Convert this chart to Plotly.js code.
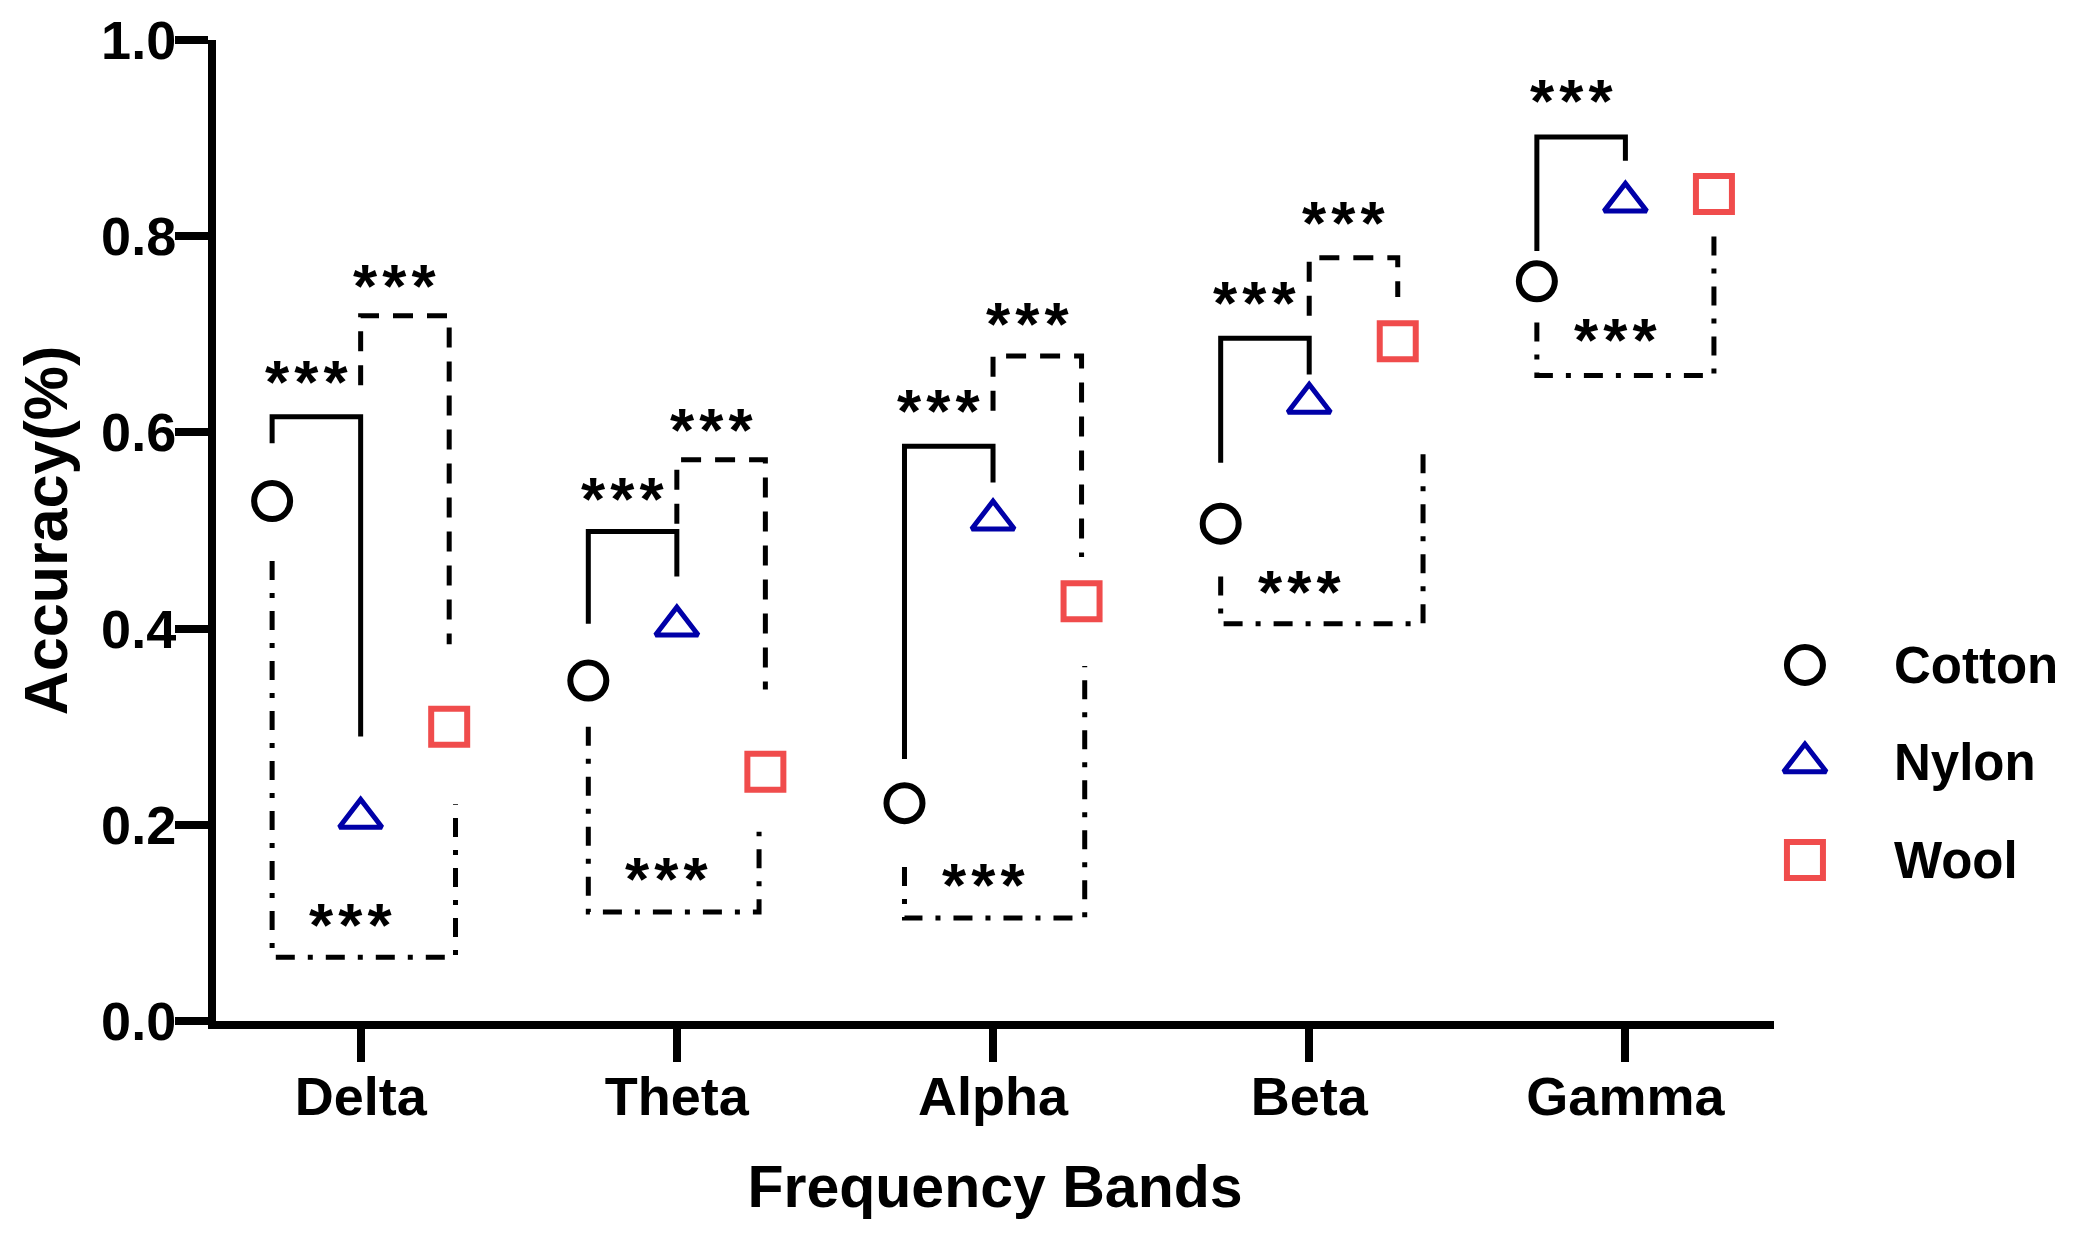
<!DOCTYPE html>
<html>
<head>
<meta charset="utf-8">
<script src="https://cdn.plot.ly/plotly-3.0.1.min.js"></script>
<style>html,body{margin:0;padding:0;background:#fff;}#chart{width:2079px;height:1240px;}</style>
</head>
<body>
<div id="chart"></div>
<script>
// ---------- data ----------
const bands = ['Delta', 'Theta', 'Alpha', 'Beta', 'Gamma'];
const seriesNames = ['Cotton', 'Nylon', 'Wool'];
const cotton = [0.530, 0.347, 0.222, 0.507, 0.754];
const nylon  = [0.207, 0.403, 0.511, 0.630, 0.835];
const wool   = [0.300, 0.254, 0.428, 0.693, 0.843];
const yTicks = [0.0, 0.2, 0.4, 0.6, 0.8, 1.0];
const sigLabel = '***';

// significance brackets: Cotton vs Nylon (solid, above)
const cnTop      = [0.616, 0.499, 0.586, 0.696, 0.901];
const cnLeftEnd  = [0.589, 0.405, 0.267, 0.569, 0.785];
const cnRightEnd = [0.290, 0.453, 0.549, 0.659, 0.877];
const cnLabelY   = [0.660, 0.541, 0.630, 0.741, 0.946];
// Nylon vs Wool (dashed, above)  -- none for Gamma
const nwTop      = [0.719, 0.572, 0.678, 0.778, null];
const nwLeftEnd  = [0.648, 0.507, 0.622, 0.719, null];
const nwRightEnd = [0.384, 0.338, 0.473, 0.738, null];
const nwLabelY   = [0.758, 0.611, 0.719, 0.822, null];
// Cotton vs Wool (dash-dot, below)
const cwBottom   = [0.065, 0.111, 0.105, 0.405, 0.658];
const cwLeftEnd  = [0.469, 0.300, 0.157, 0.453, 0.712];
const cwRightEnd = [0.221, 0.193, 0.362, 0.581, 0.800];
const cwLabelY   = [0.107, 0.153, 0.147, 0.446, 0.703];

// ---------- layout helpers ----------
const OFF = {Cotton: -0.28, Nylon: 0, Wool: 0.28};
const cwRightShift = [0.02, -0.02, 0.01, 0.08, 0.0];
const labelShift = -0.03;
const styles = {
  Cotton: {symbol: 'circle-open', color: '#000000', size: 36, lw: 6},
  Nylon:  {symbol: 'triangle-up-open', color: '#0000a8', size: 37, lw: 5},
  Wool:   {symbol: 'square-open', color: '#f04c4c', size: 36, lw: 6}
};
const FONT = 'Liberation Sans, Arial, Helvetica, sans-serif';
const xi = bands.map((b, i) => i);

function bracketTrace(leftX, rightX, a, top, b, dash) {
  const xs = [], ys = [];
  xi.forEach(i => {
    if (top[i] === null) return;
    xs.push(leftX[i], leftX[i], rightX[i], rightX[i], null);
    ys.push(a[i], top[i], top[i], b[i], null);
  });
  return {x: xs, y: ys, type: 'scatter', mode: 'lines', hoverinfo: 'skip', showlegend: false,
          line: {color: '#000', width: 5, dash: dash}, connectgaps: false, cliponaxis: false};
}

const xC = xi.map(i => i + OFF.Cotton);
const xN = xi.map(i => i + OFF.Nylon);
const xW = xi.map(i => i + OFF.Wool);
const xWcw = xi.map(i => i + OFF.Wool + cwRightShift[i]);

const traces = [
  bracketTrace(xC, xN, cnLeftEnd, cnTop, cnRightEnd, 'solid'),
  bracketTrace(xN, xW, nwLeftEnd, nwTop, nwRightEnd, '20px,14px'),
  bracketTrace(xC, xWcw, cwLeftEnd, cwBottom, cwRightEnd, '19px,13px,5px,13px')
];

const values = {Cotton: cotton, Nylon: nylon, Wool: wool};
seriesNames.forEach(name => {
  const s = styles[name];
  traces.push({
    x: xi.map(i => i + OFF[name]), y: values[name], type: 'scatter', mode: 'markers', name: name,
    showlegend: false, cliponaxis: false,
    marker: {symbol: s.symbol, size: s.size, color: s.color, line: {color: s.color, width: s.lw}}
  });
  // custom legend entry (drawn on a hidden helper axis)
  const row = seriesNames.indexOf(name);
  traces.push({
    x: [0.083], y: [row], xaxis: 'x2', yaxis: 'y2', type: 'scatter', mode: 'markers',
    showlegend: false, hoverinfo: 'skip', cliponaxis: false,
    marker: {symbol: s.symbol, size: s.size, color: s.color, line: {color: s.color, width: s.lw}}
  });
});

const annotations = [];
function addLabels(leftX, rightX, ys) {
  xi.forEach(i => {
    if (ys[i] === null) return;
    annotations.push({x: (leftX[i] + rightX[i]) / 2 + labelShift, y: ys[i], xref: 'x', yref: 'y',
      text: sigLabel.split('').join('\u200A'), showarrow: false, xanchor: 'center', yanchor: 'middle', yshift: -8,
      font: {family: FONT, size: 62, color: '#000', weight: 'bold'}});
  });
}
addLabels(xC, xN, cnLabelY);
addLabels(xN, xW, nwLabelY);
addLabels(xC, xW, cwLabelY);
seriesNames.forEach((name, row) => {
  annotations.push({x: 0.385, y: row, xref: 'x2', yref: 'y2', text: name, showarrow: false,
    xanchor: 'left', yanchor: 'middle', font: {family: FONT, size: 51, color: '#000', weight: 'bold'}});
});

const axisCommon = {showline: true, linewidth: 8, linecolor: '#000', ticks: 'outside', ticklen: 33,
  tickwidth: 8, tickcolor: '#000', showgrid: false, zeroline: false, fixedrange: true,
  tickfont: {family: FONT, size: 54, color: '#000', weight: 'bold'}};

const layout = {
  width: 2079, height: 1240,
  margin: {l: 216, r: 10, t: 40, b: 219},
  paper_bgcolor: '#fff', plot_bgcolor: '#fff',
  showlegend: false,
  font: {family: FONT, color: '#000'},
  xaxis: Object.assign({}, axisCommon, {
    domain: [0, 0.8408], range: [-0.4575, 4.47], tickmode: 'array', tickvals: xi, ticktext: bands,
    ticklabelstandoff: -12,
    title: {text: 'Frequency Bands', font: {family: FONT, size: 59, color: '#000', weight: 'bold'}, standoff: 44}
  }),
  yaxis: Object.assign({}, axisCommon, {
    range: [0, 1], tickmode: 'array', tickvals: yTicks, tickformat: '.1f',
    ticklabelstandoff: -12,
    title: {text: 'Accuracy(%)', font: {family: FONT, size: 61, color: '#000', weight: 'bold'}, standoff: 17}
  }),
  xaxis2: {domain: [0.8446, 1], range: [0, 1], visible: false, anchor: 'y2', fixedrange: true},
  yaxis2: {domain: [0, 1], range: [3.651, -6.41], visible: false, anchor: 'x2', fixedrange: true},
  annotations: annotations
};

Plotly.newPlot('chart', traces, layout, {displayModeBar: false, staticPlot: true});
</script>
</body>
</html>
